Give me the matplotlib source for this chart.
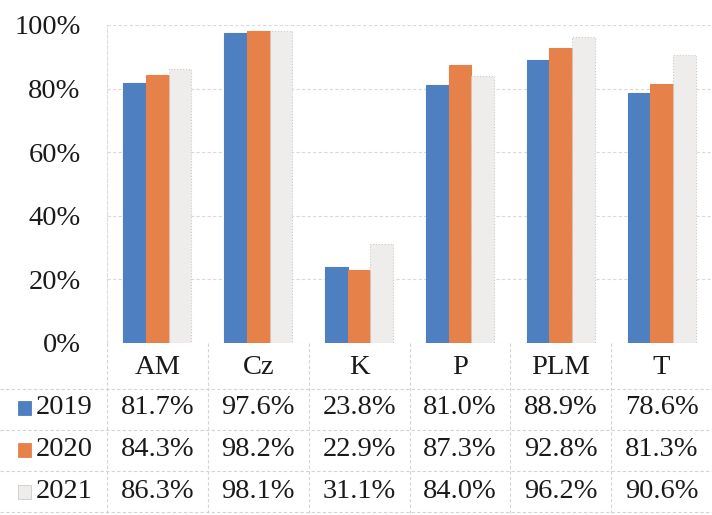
import matplotlib
matplotlib.use("Agg")
import matplotlib.pyplot as plt
import matplotlib.transforms as mtransforms
from matplotlib.patches import Rectangle
from matplotlib.lines import Line2D

categories = ["AM", "Cz", "K", "P", "PLM", "T"]
years = ["2019", "2020", "2021"]
v2019 = [81.7, 97.6, 23.8, 81.0, 88.9, 78.6]
v2020 = [84.3, 98.2, 22.9, 87.3, 92.8, 81.3]
v2021 = [86.3, 98.1, 31.1, 84.0, 96.2, 90.6]
yticks = [0, 20, 40, 60, 80, 100]

series = [v2019, v2020, v2021]
colors = ["#4d7fc1", "#e6814a", "#efecec"]
edges = ["#4d7fc1", "#e6814a", "#cfcaca"]

plt.rcParams["font.family"] = ["Liberation Serif", "DejaVu Serif"]
W, H = 712, 515
FS = 20.5
fig = plt.figure(figsize=(W / 100, H / 100), dpi=100)
fig.patch.set_facecolor("white")

left, right, top, bottom = 107, 712, 25, 343
ax = fig.add_axes([left / W, 1 - bottom / H, (right - left) / W, (bottom - top) / H])
ax.set_xlim(-0.5, len(categories) - 0.5)
ax.set_ylim(0, 100)

bw = 0.225
for k, (vals, c, ec) in enumerate(zip(series, colors, edges)):
    xs = [i + (k - 1) * bw for i in range(len(categories))]
    ax.bar(xs, vals, width=bw, color=c, edgecolor=ec,
           linewidth=0.8, linestyle=":" if k == 2 else "-", zorder=3)

ax.set_yticks(yticks)
ax.set_yticklabels([f"{t}%" for t in yticks], fontsize=FS, color="#1a1a1a")
ax.tick_params(axis="y", length=0, pad=19)
ax.set_xticks([])
for y in yticks:
    ax.axhline(y, color="#dadada", lw=0.8, ls=(0, (3, 2)), zorder=1)
for s in ["top", "right", "bottom"]:
    ax.spines[s].set_visible(False)
ax.spines["left"].set_color("#dddddd")
ax.spines["left"].set_linestyle((0, (3, 2)))
ax.spines["left"].set_linewidth(0.8)

# data table
tr = mtransforms.blended_transform_factory(ax.transData, fig.transFigure)
def fy(py):
    return 1 - py / H

header_y = 368
row_ys = [408, 450, 492]
hlines = [343, 389, 430, 471, 512]
txtcol = "#1a1a1a"
for i, c in enumerate(categories):
    ax.text(i, fy(header_y), c, transform=tr, ha="center", va="center",
            fontsize=FS, color=txtcol, clip_on=False)
for r, (yr, vals) in enumerate(zip(years, series)):
    for i, v in enumerate(vals):
        ax.text(i, fy(row_ys[r]), f"{v:.1f}%", transform=tr, ha="center",
                va="center", fontsize=FS, color=txtcol, clip_on=False)
    fig.text(36 / W, fy(row_ys[r]), yr, ha="left", va="center",
             fontsize=FS, color=txtcol)
    sq = Rectangle((18 / W, fy(row_ys[r] + 7)), 13 / W, 14 / H,
                   transform=fig.transFigure, facecolor=colors[r],
                   edgecolor=edges[r], lw=0.6)
    fig.add_artist(sq)

gridc = "#d4d4d4"
for py in hlines[1:]:
    fig.add_artist(Line2D([0, 1], [fy(py), fy(py)], transform=fig.transFigure,
                          color=gridc, lw=0.8, ls=(0, (3, 2))))
for i in range(len(categories)):
    xb = i - 0.5
    ax.add_line(Line2D([xb, xb], [fy(343), fy(515)], transform=tr, color=gridc,
                       lw=0.8, ls=(0, (3, 2)), clip_on=False))

fig.savefig("out.png", dpi=100, facecolor="white")
